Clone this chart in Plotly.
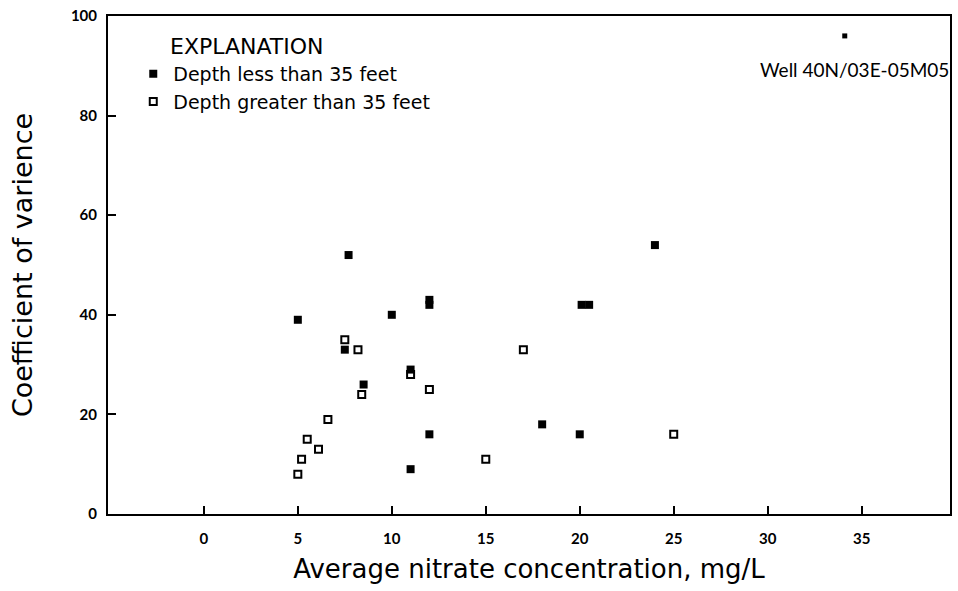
import plotly.graph_objects as go

# Depth less than 35 feet (filled)
shallow_x = [7.7, 12.0, 12.0, 10.0, 5.0, 7.5, 8.5, 11.0, 12.0, 11.0, 18.0, 24.0, 20.1, 20.5, 20.0]
shallow_y = [52, 43, 42, 40, 39, 33, 26, 29, 16, 9, 18, 54, 42, 42, 16]

# Depth greater than 35 feet (open)
deep_x = [7.5, 8.2, 8.4, 12.0, 6.6, 5.5, 6.1, 5.2, 5.0, 15.0, 17.0, 11.0, 25.0]
deep_y = [35, 33, 24, 25, 19, 15, 13, 11, 8, 11, 33, 28, 16]

# Single well highlighted
well_x = [34.1]
well_y = [96]
well_label = "Well 40N/03E-05M05"
legend_title = "EXPLANATION"

x_ticks = [0, 5, 10, 15, 20, 25, 30, 35]
y_ticks = [0, 20, 40, 60, 80, 100]

font = "Lato, DejaVu Sans, sans-serif"
wide = "DejaVu Sans, sans-serif"

fig = go.Figure()
fig.add_trace(go.Scatter(
    x=shallow_x, y=shallow_y, mode="markers", name="Depth less than 35 feet",
    marker=dict(symbol="square", size=8, color="black"),
))
fig.add_trace(go.Scatter(
    x=deep_x, y=deep_y, mode="markers", name="Depth greater than 35 feet",
    marker=dict(symbol="square-open", size=7, color="black", line=dict(width=2)),
))
fig.add_trace(go.Scatter(
    x=well_x, y=well_y, mode="markers", showlegend=False,
    marker=dict(symbol="square", size=5, color="black"),
))

fig.add_annotation(x=0.886, y=0.892, xref="paper", yref="paper", text=well_label,
                   showarrow=False, font=dict(family=font, size=19, color="black"),
                   xanchor="center", yanchor="middle")
fig.add_annotation(x=0.071, y=0.938, xref="paper", yref="paper", text=legend_title,
                   showarrow=False, font=dict(family=wide, size=22, color="black"),
                   xanchor="left", yanchor="middle")

fig.update_layout(
    width=958, height=591,
    margin=dict(l=108, r=6, t=16, b=77),
    plot_bgcolor="white", paper_bgcolor="white",
    font=dict(family=font, color="black"),
    showlegend=True,
    legend=dict(
        x=0.03, y=0.922, xanchor="left", yanchor="top",
        font=dict(size=19, family=wide),
        bgcolor="rgba(0,0,0,0)", tracegroupgap=0, itemwidth=30,
    ),
    xaxis=dict(
        range=[-5.1, 39.7], tickvals=x_ticks, ticks="inside", ticklen=8, tickwidth=2,
        tickcolor="black", showline=True, linewidth=2, linecolor="black", mirror=True,
        showgrid=False, zeroline=False, tickfont=dict(size=15, weight="bold"),
        ticklabelstandoff=10,
        title=dict(text="Average nitrate concentration, mg/L", font=dict(size=26, family=wide), standoff=14),
    ),
    yaxis=dict(
        range=[0, 100], tickvals=y_ticks, ticks="inside", ticklen=8, tickwidth=2,
        tickcolor="black", showline=True, linewidth=2, linecolor="black", mirror=True,
        showgrid=False, zeroline=False, tickfont=dict(size=15, weight="bold"),
        ticklabelstandoff=6,
        title=dict(text="Coefficient of varience", font=dict(size=27, family=wide), standoff=30),
    ),
)

fig.write_html("out.html")
